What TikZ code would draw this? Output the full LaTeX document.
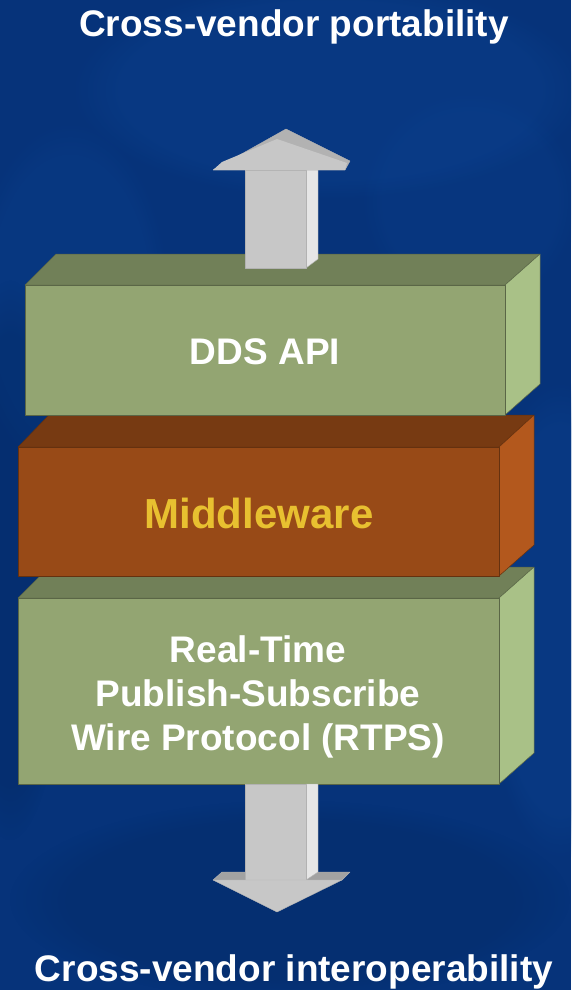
\documentclass[tikz,border=0pt]{standalone}
\usepackage{fontspec}
\setmainfont{Liberation Sans}
\usetikzlibrary{fadings}

\definecolor{bgblue}{HTML}{06337A}
\definecolor{bglight}{HTML}{0F4A9C}
\definecolor{bgdark}{HTML}{03255A}
\definecolor{greenfront}{HTML}{93A572}
\definecolor{greentop}{HTML}{718058}
\definecolor{greenside}{HTML}{A9C187}
\definecolor{orfront}{HTML}{984A17}
\definecolor{ortop}{HTML}{773A12}
\definecolor{orside}{HTML}{B3581D}
\definecolor{mwtext}{HTML}{E8C030}
\definecolor{arrfront}{HTML}{C7C7C7}
\definecolor{arrside}{HTML}{E6E6E6}
\definecolor{arrbevel}{HTML}{B2B2B2}
\definecolor{arrtop}{HTML}{A2A2A2}

\begin{document}
\begin{tikzpicture}[x=1pt,y=-1pt,
  face/.style={line width=0.5pt, line join=round},
  greenbox/.style={face, draw=greentop!80!black},
  orbox/.style={face, draw=ortop!85!black},
  arrowpart/.style={line width=0.4pt, line join=round, draw=black!30},
  blob/.style={path fading=circle with fuzzy edge 20 percent},
  lbl/.style={font=\bfseries\fontsize{37}{43}\selectfont, text=white, inner sep=0pt, anchor=base},
]
\useasboundingbox (0,0) rectangle (571,990);

% background with soft mottling
\fill[bgblue] (0,0) rectangle (571,990);
\fill[bglight, opacity=0.25, blob] (330,90) ellipse (260 and 110);
\fill[bglight, opacity=0.25, blob] (560,620) ellipse (80 and 240);
\fill[bglight, opacity=0.18, blob] (70,300) ellipse (100 and 180);
\fill[bgdark, opacity=0.30, blob] (10,560) ellipse (60 and 280);
\fill[bgdark, opacity=0.25, blob] (290,900) ellipse (280 and 100);
\fill[bglight, opacity=0.15, blob] (470,200) ellipse (110 and 110);

% RTPS block (bottom layer)
\fill[greentop, greenbox] (18,598) -- (49,567) -- (534,567) -- (499,598) -- cycle;
\fill[greenside, greenbox] (499,598) -- (534,567) -- (534,753) -- (499,784) -- cycle;
\fill[greenfront, greenbox] (18,598) rectangle (499,784);

% Middleware block
\fill[ortop, orbox] (18,447) -- (49,415) -- (534,415) -- (499,447) -- cycle;
\fill[orside, orbox] (499,447) -- (534,415) -- (534,545) -- (499,576) -- cycle;
\fill[orfront, orbox] (18,447) rectangle (499,576);

% DDS API block (top layer)
\fill[greentop, greenbox] (25,285) -- (56,254) -- (540,254) -- (505,285) -- cycle;
\fill[greenside, greenbox] (505,285) -- (540,254) -- (540,384) -- (505,415) -- cycle;
\fill[greenfront, greenbox] (25,285) rectangle (505,415);

% upward arrow standing on the top block
\fill[arrside, arrowpart] (306,170) -- (318,170) -- (318,259) -- (306,268) -- cycle;
\fill[arrfront, arrowpart] (245,170) rectangle (306,268);
\fill[arrbevel, arrowpart] (213,170) -- (286,129) -- (350,161) -- (345,170) -- cycle;
\fill[arrfront] (213,170) -- (222,162) -- (277,139) -- (347,163) -- (345,170) -- cycle;

% downward arrow below the bottom block
\fill[arrtop, arrowpart] (213,880) -- (222,872) -- (350,872) -- (342,880) -- cycle;
\fill[arrside, arrowpart] (306,784) -- (318,784) -- (318,872) -- (306,880) -- cycle;
\fill[arrfront, arrowpart] (245,784) rectangle (306,880);
\fill[arrfront, arrowpart] (213,880) -- (342,880) -- (277,912) -- cycle;

% labels
\node[lbl] (title) at (294,37) {Cross-vendor portability};
\node[lbl] (ddslabel) at (265,364) {DDS API};
\node[lbl, text=mwtext, font=\bfseries\fontsize{42}{48}\selectfont] (mwlabel) at (259,528) {Middleware};
\node[lbl] (rtpsa) at (258,662) {Real-Time};
\node[lbl] (rtpsb) at (258,706) {Publish-Subscribe};
\node[lbl] (rtpsc) at (258,750) {Wire Protocol (RTPS)};
\node[lbl] (bottomtitle) at (294,981) {Cross-vendor interoperability};
\end{tikzpicture}
\end{document}
